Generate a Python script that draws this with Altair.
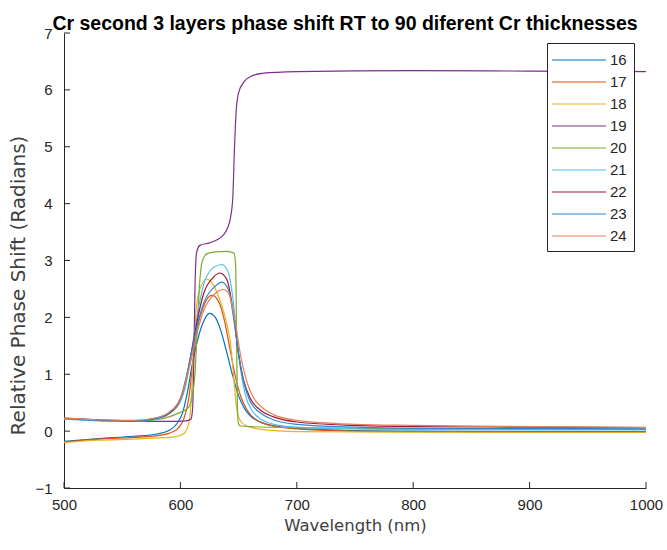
import altair as alt
import pandas as pd

# ---- data ----
wl16 = [500, 530, 560, 580, 590, 597, 602, 606, 610, 615, 620, 625, 630, 635, 640, 645, 650, 655, 660, 670, 685, 700, 750, 800, 900, 1000]
v16 = [-0.18, -0.13, -0.09, -0.05, 0.01, 0.13, 0.33, 0.68, 1.15, 1.62, 1.93, 2.07, 2.0, 1.75, 1.37, 0.97, 0.62, 0.4, 0.27, 0.15, 0.08, 0.05, 0.01, 0.0, -0.01, -0.01]

wl17 = [500, 530, 560, 580, 590, 598, 603, 607, 611, 615, 620, 627, 633, 638, 643, 647, 652, 657, 665, 680, 700, 750, 800, 900, 1000]
v17 = [-0.19, -0.14, -0.11, -0.08, -0.04, 0.05, 0.22, 0.55, 1.25, 1.85, 2.2, 2.39, 2.27, 1.93, 1.4, 0.98, 0.6, 0.38, 0.2, 0.09, 0.04, 0.0, -0.01, -0.02, -0.02]

wl18 = [500, 530, 560, 580, 595, 603, 607, 609, 611, 613, 616, 622.6, 628, 634, 639, 643, 646, 648, 651, 656, 670, 700, 800, 1000]
v18 = [-0.2, -0.16, -0.14, -0.12, -0.1, -0.04, 0.12, 0.45, 1.3, 2.0, 2.45, 2.67, 2.58, 2.3, 1.95, 1.55, 0.9, 0.45, 0.2, 0.1, 0.03, -0.01, -0.02, -0.02]

wl19 = [500, 530, 560, 590, 605, 609, 610.5, 611.5, 612.5, 614, 617, 625, 632, 637, 640, 643, 645, 646.5, 648, 650, 655, 660, 670, 700, 800, 900, 1000]
v19 = [0.22, 0.19, 0.17, 0.17, 0.18, 0.21, 0.4, 1.2, 2.5, 3.15, 3.27, 3.31, 3.37, 3.45, 3.55, 3.75, 4.1, 5.0, 5.65, 5.95, 6.15, 6.23, 6.29, 6.32, 6.34, 6.33, 6.32]

wl20 = [500, 530, 560, 580, 590, 600, 605, 608, 610, 612.5, 614.5, 616.5, 619, 623, 630, 640, 646, 647.5, 648.3, 649, 650, 652, 660, 700, 800, 1000]
v20 = [0.21, 0.19, 0.17, 0.2, 0.25, 0.33, 0.38, 0.45, 0.6, 1.0, 1.8, 2.6, 3.0, 3.12, 3.15, 3.16, 3.13, 2.9, 1.6, 0.4, 0.12, 0.09, 0.08, 0.06, 0.04, 0.03]

wl21 = [500, 530, 560, 580, 590, 600, 605, 610, 615, 620, 628, 635.5, 641, 645, 649, 652, 656, 662, 670, 685, 700, 750, 800, 900, 1000]
v21 = [0.21, 0.18, 0.17, 0.22, 0.3, 0.52, 0.85, 1.45, 2.1, 2.58, 2.87, 2.93, 2.8, 2.35, 1.55, 1.05, 0.62, 0.35, 0.2, 0.1, 0.07, 0.04, 0.03, 0.02, 0.02]

wl22 = [500, 530, 560, 580, 590, 600, 605, 610, 615, 620, 628, 634, 640, 645, 650, 654, 660, 670, 680, 700, 750, 800, 900, 1000]
v22 = [0.23, 0.2, 0.18, 0.23, 0.31, 0.56, 0.92, 1.45, 2.0, 2.42, 2.7, 2.78, 2.66, 2.15, 1.35, 0.92, 0.58, 0.35, 0.25, 0.16, 0.1, 0.08, 0.07, 0.06]

wl23 = [500, 530, 560, 580, 590, 600, 605, 610, 615, 620, 630, 635.5, 641, 646, 650, 654, 660, 670, 680, 700, 750, 800, 900, 1000]
v23 = [0.22, 0.19, 0.18, 0.23, 0.32, 0.58, 0.95, 1.42, 1.9, 2.25, 2.55, 2.62, 2.5, 1.95, 1.35, 0.9, 0.52, 0.3, 0.2, 0.12, 0.07, 0.05, 0.045, 0.04]

wl24 = [500, 530, 560, 580, 590, 600, 605, 610, 615, 620, 630, 637, 642, 647, 652, 656, 660, 670, 680, 700, 750, 800, 900, 1000]
v24 = [0.23, 0.2, 0.19, 0.24, 0.33, 0.57, 0.9, 1.32, 1.78, 2.12, 2.42, 2.49, 2.4, 1.92, 1.3, 0.95, 0.7, 0.42, 0.29, 0.19, 0.12, 0.1, 0.08, 0.065]

series_names = ["16", "17", "18", "19", "20", "21", "22", "23", "24"]
series_wl = [wl16, wl17, wl18, wl19, wl20, wl21, wl22, wl23, wl24]
series_v = [v16, v17, v18, v19, v20, v21, v22, v23, v24]
series_colors = ["#0072BD", "#D95319", "#EDB120", "#7E2F8E", "#77AC30",
                 "#4DBEEE", "#A2142F", "#2F86CC", "#E3825A"]

x_ticks = [500, 600, 700, 800, 900, 1000]
y_ticks = [-1, 0, 1, 2, 3, 4, 5, 6, 7]

rows = []
for name, wls, vs in zip(series_names, series_wl, series_v):
    for o, (w, v) in enumerate(zip(wls, vs)):
        rows.append({"series": name, "wl": w, "v": v, "o": o})
df = pd.DataFrame(rows)

xscale = alt.Scale(domain=[500, 1000], nice=False, zero=False)
yscale = alt.Scale(domain=[-1, 7], nice=False, zero=False)

lines = alt.Chart(df).mark_line(strokeWidth=1.2, interpolate="monotone").encode(
    x=alt.X("wl:Q", scale=xscale,
            axis=alt.Axis(values=x_ticks, format="d", title="Wavelength (nm)", grid=False,
                          tickSize=0, labelPadding=9, titlePadding=5,
                          labelFont="Liberation Sans", labelFontSize=15,
                          labelColor="#262626", titleFont="DejaVu Sans",
                          titleFontSize=16.5, titleFontWeight="normal",
                          titleColor="#404040", domainColor="#262626",
                          labelFlush=False)),
    y=alt.Y("v:Q", scale=yscale,
            axis=alt.Axis(values=y_ticks, format="d", title="Relative Phase Shift (Radians)",
                          grid=False, tickSize=0, labelPadding=12, titlePadding=6,
                          titleY=252,
                          labelFont="Liberation Sans", labelFontSize=15,
                          labelColor="#262626", titleFont="DejaVu Sans",
                          titleFontSize=20, titleFontWeight="normal",
                          titleColor="#404040", domainColor="#262626",
                          labelFlush=False)),
    color=alt.Color("series:N",
                    scale=alt.Scale(domain=series_names, range=series_colors),
                    legend=alt.Legend(title=None, orient="none", legendX=483, legendY=10,
                                      symbolType="M-3,0H3", symbolSize=324,
                                      symbolStrokeWidth=1.2, symbolOffset=15,
                                      labelOffset=21, padding=7, rowPadding=4,
                                      labelFont="Liberation Sans", labelFontSize=15,
                                      labelColor="#262626", strokeColor="#262626",
                                      fillColor="white")),
    order="o:Q",
)

xt = alt.Chart(pd.DataFrame({"wl": x_ticks})).mark_rule(color="#262626", strokeWidth=1).encode(
    x="wl:Q", y=alt.value(455), y2=alt.value(449))
yt = alt.Chart(pd.DataFrame({"v": y_ticks})).mark_rule(color="#262626", strokeWidth=1).encode(
    y="v:Q", x=alt.value(0), x2=alt.value(6))

chart = alt.layer(lines, xt, yt).properties(
    width=582, height=455,
    autosize=alt.AutoSizeParams(type="none"),
    padding={"left": 64, "top": 33, "right": 21, "bottom": 62},
    title=alt.TitleParams("Cr second 3 layers phase shift RT to 90 diferent Cr thicknesses",
                          font="Liberation Sans", fontSize=19.5, fontWeight="bold",
                          color="black", anchor="middle", dx=-10, dy=23, offset=0,
                          baseline="alphabetic"),
).configure_view(stroke=None).configure_axis(domainWidth=1)

chart.save("out.html", embed_options={"renderer": "svg", "actions": False})
